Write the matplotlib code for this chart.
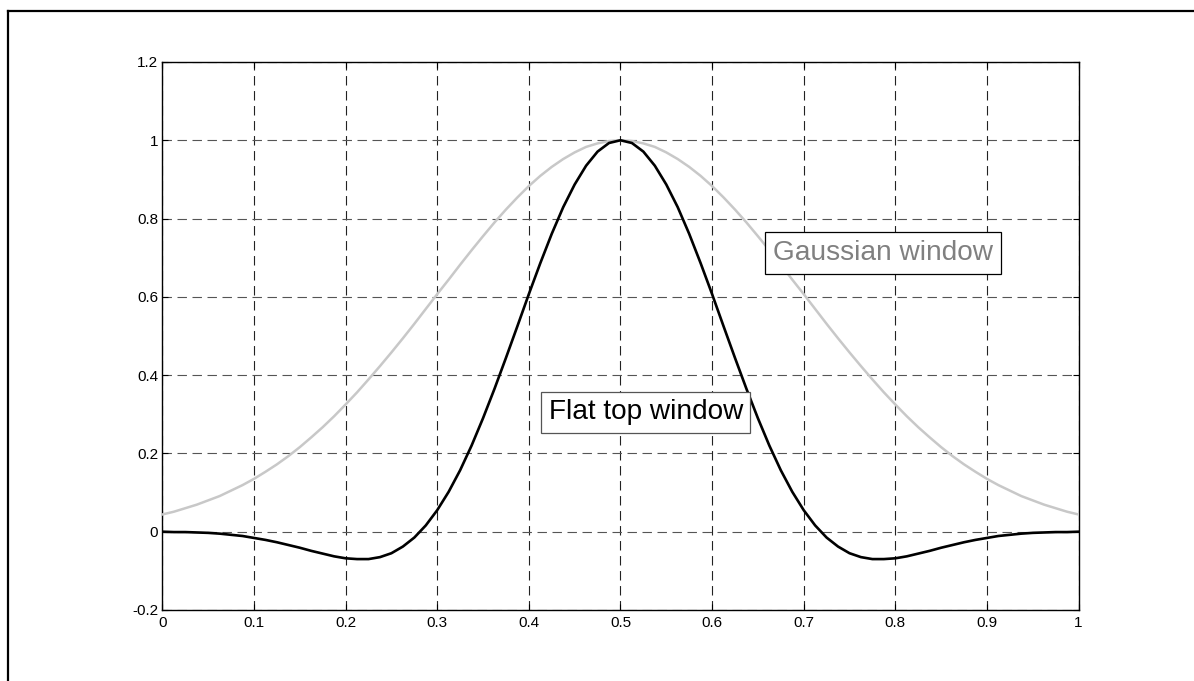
import matplotlib
matplotlib.use("Agg")
import matplotlib.pyplot as plt
from matplotlib.lines import Line2D

plt.rcParams['font.family'] = ['Liberation Sans', 'DejaVu Sans']

# ---- data ----
x_pos = [0.0, 0.0125, 0.025, 0.0375, 0.05, 0.0625, 0.075, 0.0875, 0.1, 0.1125,
         0.125, 0.1375, 0.15, 0.1625, 0.175, 0.1875, 0.2, 0.2125, 0.225, 0.2375,
         0.25, 0.2625, 0.275, 0.2875, 0.3, 0.3125, 0.325, 0.3375, 0.35, 0.3625,
         0.375, 0.3875, 0.4, 0.4125, 0.425, 0.4375, 0.45, 0.4625, 0.475, 0.4875,
         0.5, 0.5125, 0.525, 0.5375, 0.55, 0.5625, 0.575, 0.5875, 0.6, 0.6125,
         0.625, 0.6375, 0.65, 0.6625, 0.675, 0.6875, 0.7, 0.7125, 0.725, 0.7375,
         0.75, 0.7625, 0.775, 0.7875, 0.8, 0.8125, 0.825, 0.8375, 0.85, 0.8625,
         0.875, 0.8875, 0.9, 0.9125, 0.925, 0.9375, 0.95, 0.9625, 0.975, 0.9875,
         1.0]

gaussian_window = [0.044, 0.051, 0.060, 0.069, 0.080, 0.091, 0.105, 0.119, 0.135, 0.153,
                   0.172, 0.193, 0.216, 0.241, 0.267, 0.295, 0.325, 0.356, 0.389, 0.423,
                   0.458, 0.494, 0.531, 0.569, 0.607, 0.644, 0.682, 0.719, 0.755, 0.790,
                   0.823, 0.854, 0.883, 0.909, 0.932, 0.952, 0.969, 0.983, 0.992, 0.998,
                   1.000,
                   0.998, 0.992, 0.983, 0.969, 0.952, 0.932, 0.909, 0.883, 0.854, 0.823,
                   0.790, 0.755, 0.719, 0.682, 0.644, 0.607, 0.569, 0.531, 0.494, 0.458,
                   0.423, 0.389, 0.356, 0.325, 0.295, 0.267, 0.241, 0.216, 0.193, 0.172,
                   0.153, 0.135, 0.119, 0.105, 0.091, 0.080, 0.069, 0.060, 0.051, 0.044]

flat_top_window = [0.000, -0.001, -0.001, -0.002, -0.003, -0.005, -0.008, -0.011, -0.016,
                   -0.021, -0.027, -0.034, -0.041, -0.049, -0.056, -0.063, -0.068, -0.070,
                   -0.070, -0.065, -0.055, -0.038, -0.015, 0.016, 0.055, 0.102, 0.157,
                   0.220, 0.290, 0.365, 0.444, 0.525, 0.607, 0.686, 0.761, 0.829, 0.887,
                   0.935, 0.971, 0.993, 1.000,
                   0.993, 0.971, 0.935, 0.887, 0.829, 0.761, 0.686, 0.607, 0.525, 0.444,
                   0.365, 0.290, 0.220, 0.157, 0.102, 0.055, 0.016, -0.015, -0.038,
                   -0.055, -0.065, -0.070, -0.070, -0.068, -0.063, -0.056, -0.049, -0.041,
                   -0.034, -0.027, -0.021, -0.016, -0.011, -0.008, -0.005, -0.003, -0.002,
                   -0.001, -0.001, 0.000]

x_ticks = [0, 0.1, 0.2, 0.3, 0.4, 0.5, 0.6, 0.7, 0.8, 0.9, 1]
x_tick_labels = ['0', '0.1', '0.2', '0.3', '0.4', '0.5', '0.6', '0.7', '0.8', '0.9', '1']
y_ticks = [-0.2, 0, 0.2, 0.4, 0.6, 0.8, 1.0, 1.2]
y_tick_labels = ['-0.2', '0', '0.2', '0.4', '0.6', '0.8', '1', '1.2']

label_gaussian = 'Gaussian window'
label_flat = 'Flat top window'

# ---- figure ----
fig = plt.figure(figsize=(11.94, 6.81), dpi=100)
ax = fig.add_axes([0.136, 0.1043, 0.7673, 0.8047])

ax.plot(x_pos, gaussian_window, color='#c8c8c8', lw=1.8, solid_joinstyle='round', zorder=3)
ax.plot(x_pos, flat_top_window, color='black', lw=1.9, solid_joinstyle='round', zorder=4)

ax.set_xlim(0, 1)
ax.set_ylim(-0.2, 1.2)
ax.set_xticks(x_ticks)
ax.set_xticklabels(x_tick_labels)
ax.set_yticks(y_ticks)
ax.set_yticklabels(y_tick_labels)

ax.tick_params(direction='in', length=4, width=0.8, top=True, right=True,
               labelsize=11, pad=3, colors='black')
ax.tick_params(axis='x', pad=4.5)

for sp in ax.spines.values():
    sp.set_linewidth(1.0)
    sp.set_color('black')

ax.xaxis.grid(True, color='#222222', lw=0.8, dashes=(8.5, 5))
ax.yaxis.grid(True, color='#555555', lw=0.8, dashes=(8.5, 5))
ax.set_axisbelow(True)

ax.text(0.6665, 0.712, label_gaussian, fontsize=20.2, color='#808080',
        ha='left', va='center', zorder=6,
        bbox=dict(boxstyle='square,pad=0.27', fc='white', ec='black', lw=0.9))
ax.text(0.4215, 0.305, label_flat, fontsize=20.2, color='black',
        ha='left', va='center', zorder=6,
        bbox=dict(boxstyle='square,pad=0.27', fc='white', ec='#555555', lw=0.9))

# outer border (top and left edges)
W, H = 1194, 681
fig.add_artist(Line2D([8 / W, 1.0], [1 - 11 / H, 1 - 11 / H], color='black', lw=1.6,
                      transform=fig.transFigure))
fig.add_artist(Line2D([8 / W, 8 / W], [0.0, 1 - 11 / H], color='black', lw=1.6,
                      transform=fig.transFigure))

fig.savefig('out.png', dpi=100)
